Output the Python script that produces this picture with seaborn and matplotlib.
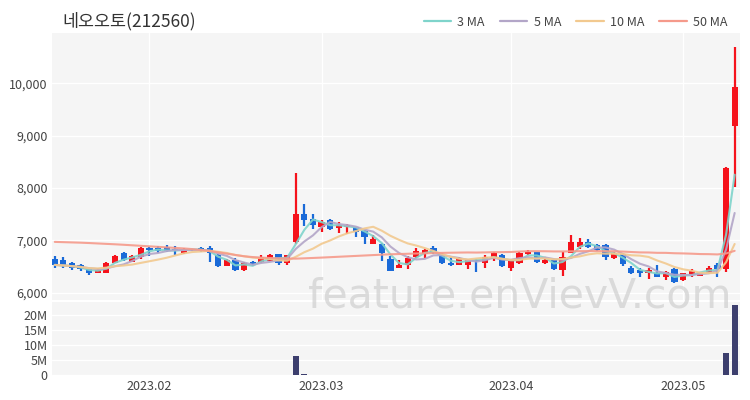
import matplotlib
matplotlib.use("Agg")
import matplotlib.pyplot as plt
from matplotlib.lines import Line2D
from matplotlib.ticker import FuncFormatter
import numpy as np
import pandas as pd
import seaborn as sns

# ── data (KRW, daily) ─────────────────────────────────────────────────
opens = [6640, 6620, 6570, 6530, 6450, 6380, 6380, 6570, 6750, 6590,
         6690, 6860, 6850, 6880, 6830, 6750, 6810, 6860, 6860, 6720,
         6510, 6620, 6430, 6580, 6590, 6610, 6730, 6560, 6970, 7500,
         7400, 7250, 7390, 7230, 7260, 7250, 7180, 6930, 6930, 6650,
         6480, 6520, 6690, 6740, 6860, 6720, 6560, 6530, 6530, 6620,
         6560, 6640, 6720, 6470, 6560, 6740, 6770, 6560, 6620, 6430,
         6760, 6880, 6960, 6910, 6910, 6655, 6740, 6480, 6430, 6370,
         6370, 6300, 6460, 6240, 6340, 6320, 6370, 6530, 6450, 9180]
highs = [6700, 6690, 6590, 6550, 6460, 6470, 6590, 6710, 6770, 6720,
         6870, 6880, 6900, 6920, 6890, 6860, 6840, 6870, 6890, 6730,
         6640, 6660, 6590, 6600, 6710, 6730, 6740, 6720, 8290, 7690,
         7500, 7390, 7400, 7350, 7320, 7260, 7190, 7100, 6940, 6700,
         6620, 6700, 6850, 6830, 6900, 6750, 6680, 6690, 6640, 6640,
         6720, 6780, 6730, 6610, 6770, 6810, 6780, 6640, 6630, 6780,
         7100, 7040, 7020, 6930, 6930, 6780, 6760, 6510, 6465, 6465,
         6530, 6420, 6470, 6380, 6460, 6390, 6500, 6560, 8400, 10690]
lows = [6470, 6480, 6430, 6410, 6340, 6370, 6370, 6560, 6600, 6580,
        6650, 6700, 6750, 6770, 6720, 6740, 6800, 6780, 6590, 6490,
        6500, 6420, 6420, 6500, 6560, 6600, 6530, 6530, 6930, 7270,
        7210, 7160, 7200, 7140, 7120, 7070, 6930, 6930, 6610, 6410,
        6480, 6460, 6660, 6670, 6740, 6550, 6500, 6520, 6450, 6400,
        6480, 6610, 6490, 6420, 6550, 6720, 6560, 6550, 6440, 6320,
        6750, 6830, 6850, 6790, 6620, 6640, 6510, 6360, 6300, 6270,
        6290, 6240, 6180, 6230, 6300, 6310, 6360, 6300, 6400, 8020]
closes = [6530, 6510, 6480, 6450, 6370, 6440, 6570, 6700, 6620, 6700,
          6850, 6820, 6800, 6800, 6810, 6840, 6830, 6800, 6750, 6510,
          6620, 6430, 6570, 6540, 6680, 6720, 6570, 6710, 7500, 7390,
          7300, 7355, 7210, 7300, 7290, 7150, 7070, 7020, 6750, 6420,
          6530, 6670, 6800, 6810, 6750, 6560, 6520, 6670, 6620, 6600,
          6690, 6750, 6500, 6600, 6760, 6780, 6590, 6630, 6450, 6680,
          6970, 6970, 6880, 6810, 6690, 6765, 6550, 6380, 6380, 6430,
          6290, 6400, 6210, 6370, 6420, 6370, 6480, 6450, 8390, 9920]
volumes = [0.06, 0.05, 0.04, 0.04, 0.05, 0.03, 0.06, 0.07, 0.05, 0.04,
           0.08, 0.05, 0.04, 0.05, 0.03, 0.04, 0.02, 0.03, 0.05, 0.07,
           0.04, 0.05, 0.04, 0.03, 0.04, 0.04, 0.05, 0.05, 6.20, 0.45,
           0.15, 0.10, 0.07, 0.06, 0.05, 0.05, 0.06, 0.05, 0.08, 0.10,
           0.05, 0.06, 0.07, 0.05, 0.04, 0.05, 0.04, 0.05, 0.04, 0.05,
           0.05, 0.05, 0.06, 0.05, 0.06, 0.05, 0.05, 0.04, 0.05, 0.08,
           0.10, 0.07, 0.05, 0.05, 0.05, 0.04, 0.06, 0.06, 0.05, 0.04,
           0.05, 0.04, 0.06, 0.04, 0.04, 0.03, 0.05, 0.06, 7.30, 23.30]  # millions
# 50 MA for the first 49 sessions (needs history before the window)
ma50_head = [6970, 6965, 6960, 6955, 6948, 6940, 6932, 6924, 6915, 6905, 6895,
             6885, 6875, 6865, 6855, 6845, 6832, 6815, 6795, 6770, 6745, 6720, 6695,
             6680, 6670, 6662, 6656, 6652, 6650,
             6656, 6663, 6670, 6678, 6686, 6694, 6702, 6710, 6718, 6726, 6733,
             6738, 6743, 6748, 6752, 6756, 6760, 6763, 6766, 6768]
month_labels = ["2023.02", "2023.03", "2023.04", "2023.05"]
holidays = ["2023-01-23", "2023-01-24", "2023-03-01", "2023-05-01", "2023-05-05"]

dates = pd.bdate_range("2023-01-13", "2023-05-11")
dates = dates[~dates.isin(pd.to_datetime(holidays))]
df = pd.DataFrame({"date": dates, "open": opens, "high": highs, "low": lows,
                   "close": closes, "volume": np.array(volumes) * 1e6})
df["idx"] = np.arange(len(df))
df["ma3"] = df["close"].rolling(3, min_periods=1).mean()
df["ma5"] = df["close"].rolling(5, min_periods=1).mean()
df["ma10"] = df["close"].rolling(10, min_periods=1).mean()
df["ma50"] = df["close"].rolling(50).mean()
df.loc[:len(ma50_head) - 1, "ma50"] = ma50_head

# first session of each month -> tick positions
first_of_month = df.groupby(df["date"].dt.to_period("M"))["idx"].min().values[1:]

UP, DOWN = "#f5121b", "#1a6ad8"
MA_COLORS = {"ma3": "#7fd4cb", "ma5": "#b3a6c8", "ma10": "#f2c98f", "ma50": "#f59a8b"}
MA_LABELS = {"ma3": "3 MA", "ma5": "5 MA", "ma10": "10 MA", "ma50": "50 MA"}

sns.set_theme(style="darkgrid")
plt.rcParams["font.family"] = ["Noto Sans CJK KR", "DejaVu Sans"]

fig = plt.figure(figsize=(7.5, 4.0), dpi=100)
ax = fig.add_axes([0.069, 0.25, 0.918, 0.6675])
axv = fig.add_axes([0.069, 0.06, 0.918, 0.185], sharex=ax)

for a in (ax, axv):
    a.set_facecolor("#f5f5f5")
    a.grid(True, color="white", linewidth=1.0)
    for s in a.spines.values():
        s.set_visible(False)
    a.tick_params(length=0, labelsize=9, colors="#444444", pad=3)

# ── candles ──
up = df["close"] >= df["open"]
colors = np.where(up, UP, DOWN)
body_lo = df[["open", "close"]].min(axis=1)
body_h = (df["close"] - df["open"]).abs().clip(lower=18)
ax.vlines(df["idx"], df["low"], df["high"], colors=colors, linewidth=1.6, zorder=3)
ax.bar(df["idx"], body_h, bottom=body_lo, width=0.72, color=colors, linewidth=0, zorder=3)

# ── moving averages ──
for key, col in MA_COLORS.items():
    sns.lineplot(data=df, x="idx", y=key, ax=ax, color=col, linewidth=1.5, alpha=0.9, zorder=4)

ax.set_ylim(5860, 10960)
ax.set_yticks([6000, 7000, 8000, 9000, 10000])
ax.yaxis.set_major_formatter(FuncFormatter(lambda v, p: f"{v:,.0f}"))
ax.set_xlim(-0.35, 79.65)
ax.set_xticks([16, 32, 48, 64])
ax.tick_params(axis="x", labelbottom=False)
ax.set_xlabel("")
ax.set_ylabel("")

# ── volume ──
axv.bar(df["idx"], df["volume"], width=0.72, color="#3d3f6e", linewidth=0, zorder=3)
axv.set_ylim(-0.3e6, 24.3e6)
axv.set_yticks([0, 5e6, 10e6, 15e6, 20e6])
axv.yaxis.set_major_formatter(FuncFormatter(lambda v, p: "0" if v == 0 else f"{v / 1e6:.0f}M"))
axv.set_xticks(first_of_month)
axv.set_xticklabels(month_labels)
axv.grid(False, axis="x")
axv.set_xlabel("")
axv.set_ylabel("")

fig.text(0.083, 0.948, "네오오토(212560)", fontsize=12.5, color="#333333", va="center", ha="left")

handles = [Line2D([], [], color=c, linewidth=1.6) for c in MA_COLORS.values()]
fig.legend(handles, list(MA_LABELS.values()), loc="center right", bbox_to_anchor=(0.985, 0.945),
           ncol=4, frameon=False, fontsize=9, handlelength=2.2, columnspacing=1.2,
           handletextpad=0.5, labelcolor="#444444")

fig.text(0.693, 0.258, "feature.enVievV.com", fontsize=29.5, color="#cfcfcf", alpha=0.7,
         ha="center", va="center", family=["DejaVu Sans"], zorder=10)

fig.savefig("out.png", dpi=100, facecolor="white")
